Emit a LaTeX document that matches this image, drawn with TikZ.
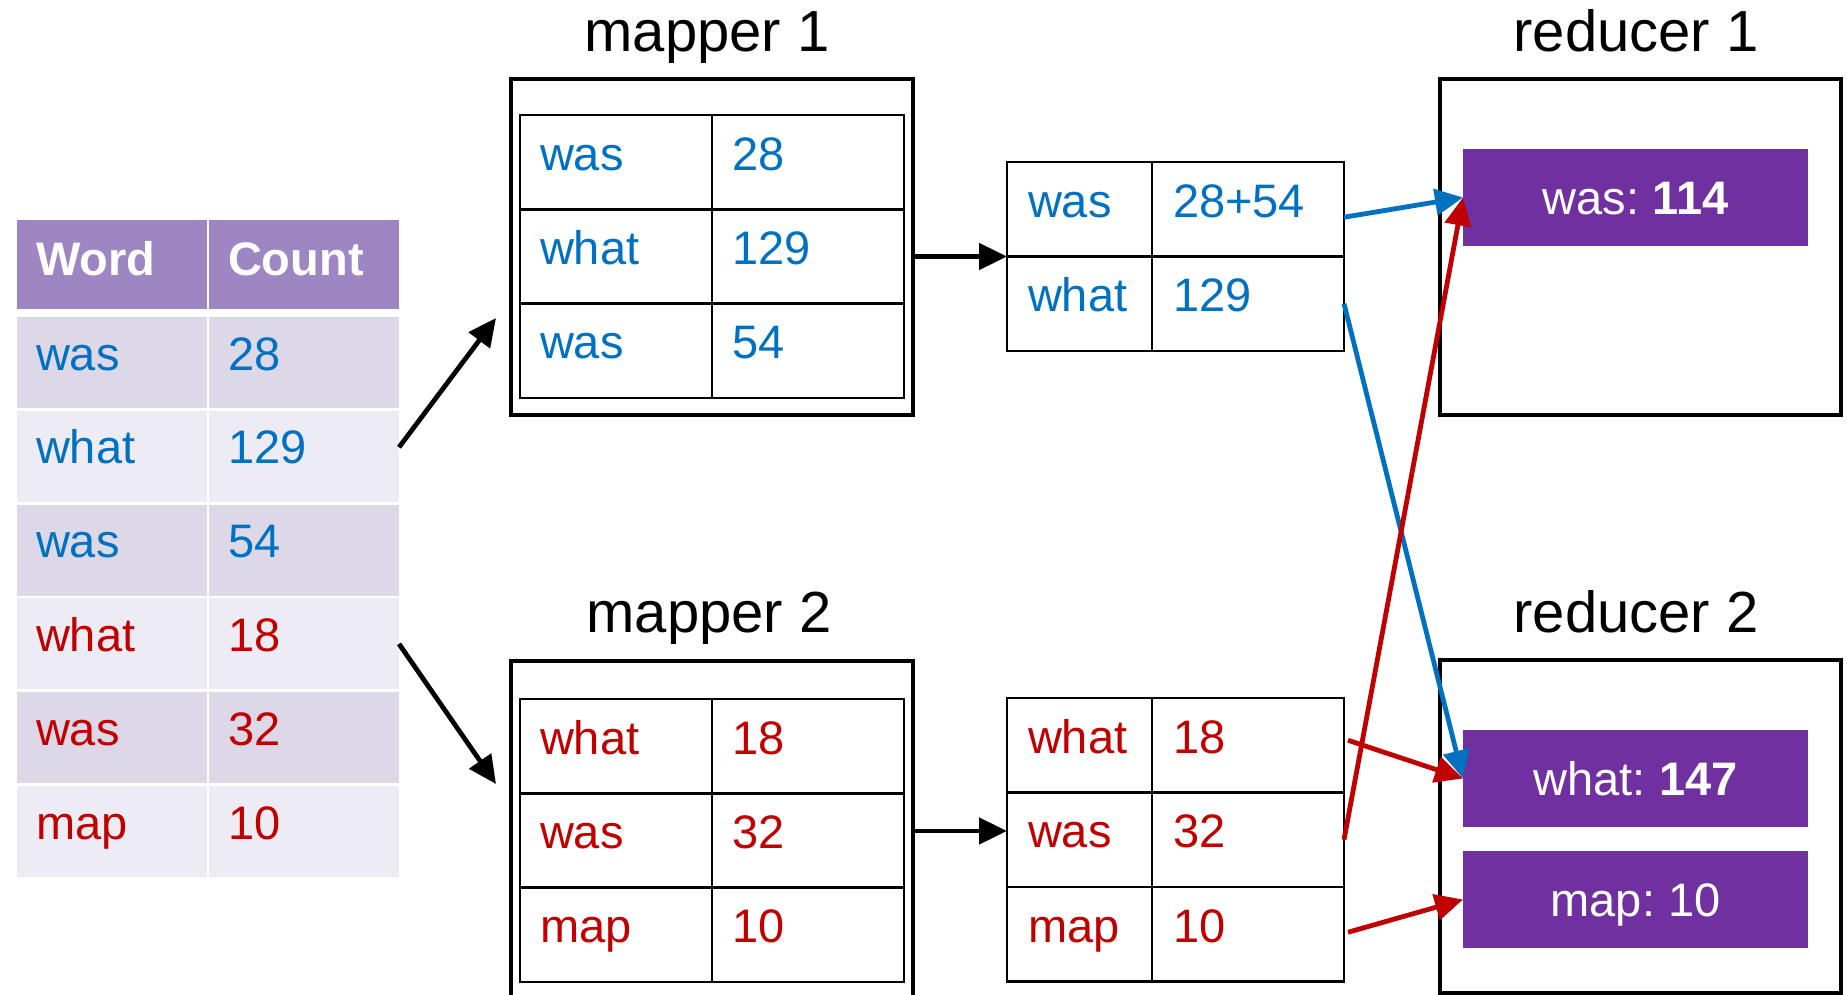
\documentclass[tikz,border=0pt]{standalone}
\usepackage{fontspec}
\setmainfont{Liberation Sans}
\frenchspacing
\usetikzlibrary{arrows.meta,calc}
\definecolor{wblue}{HTML}{0070C0}
\definecolor{wred}{HTML}{C00000}
\definecolor{rpurple}{HTML}{7030A0}
\definecolor{hdr}{HTML}{9E86C2}
\definecolor{rowA}{HTML}{DCD8E8}
\definecolor{rowB}{HTML}{EDEBF3}
\tikzset{
  every node/.style={inner sep=0pt, outer sep=0pt},
  tabfont/.style={font=\fontsize{23.5}{28}\selectfont},
  title/.style={anchor=base, font=\fontsize{29}{34}\selectfont},
  % input table (word count list)
  lhead/.style={tabfont, anchor=north west, fill=hdr, text=white, font=\fontsize{23.5}{28}\selectfont\bfseries,
    align=left, text width=76pt, inner xsep=9.5pt, inner ysep=0pt, text height=27.5pt, text depth=17pt},
  lcell/.style={tabfont, anchor=north west, align=left, text width=76pt, inner xsep=9.5pt,
    inner ysep=0pt, text height=26.5pt, text depth=19pt},
  % mapper tables
  mcell/.style={tabfont, anchor=north west, draw=black, line width=1.25pt, align=left, text width=76pt,
    inner xsep=10pt, inner ysep=0pt, text height=27.5pt, text depth=19.65pt},
  % combined tables
  ccell/.style={tabfont, anchor=north west, draw=black, line width=1.4pt, align=left, text width=#1,
    inner xsep=10.5pt, inner ysep=0pt, text height=27.5pt, text depth=19.75pt},
  obox/.style={anchor=north west, draw=black, line width=2.25pt, minimum width=#1},
  pbox/.style={tabfont, anchor=north west, fill=rpurple, text=white, minimum width=172.5pt,
    minimum height=48.5pt, text height=16.8pt, text depth=0pt},
  flow/.style={line width=2.4pt, -{Triangle[length=14pt,width=13pt]}},
  cflow/.style={line width=2.4pt, draw=#1, -{Triangle[length=14pt,width=13pt,fill=#1]}},
}
\begin{document}
\begin{tikzpicture}[x=0.5pt,y=-0.5pt]
\useasboundingbox (0,0) rectangle (1847,995);
\clip (0,0) rectangle (1847,995);

% ---- input table ----
\node[lhead] (Hw) at (17,220) {Word};
\node[lhead] (Hc) at (209,220) {Count};
\node[lcell, fill=rowA, text=wblue] (L1w) at (17,317)   {was};
\node[lcell, fill=rowA, text=wblue] (L1c) at (209,317)  {28};
\node[lcell, fill=rowB, text=wblue] (L2w) at (17,410.8) {what};
\node[lcell, fill=rowB, text=wblue] (L2c) at (209,410.8){129};
\node[lcell, fill=rowA, text=wblue] (L3w) at (17,504.6) {was};
\node[lcell, fill=rowA, text=wblue] (L3c) at (209,504.6){54};
\node[lcell, fill=rowB, text=wred]  (L4w) at (17,598.4) {what};
\node[lcell, fill=rowB, text=wred]  (L4c) at (209,598.4){18};
\node[lcell, fill=rowA, text=wred]  (L5w) at (17,692.2) {was};
\node[lcell, fill=rowA, text=wred]  (L5c) at (209,692.2){32};
\node[lcell, fill=rowB, text=wred]  (L6w) at (17,786)   {map};
\node[lcell, fill=rowB, text=wred]  (L6c) at (209,786)  {10};

% ---- mapper 1 ----
\node[title] (T1) at (707,52) {mapper 1};
\node[obox=201pt, minimum height=168pt] (M1) at (511,79) {};
\node[mcell, text=wblue] (M1aw) at (520,115)   {was};
\node[mcell, text=wblue] (M1ac) at (712,115)   {28};
\node[mcell, text=wblue] (M1bw) at (520,209.3) {what};
\node[mcell, text=wblue] (M1bc) at (712,209.3) {129};
\node[mcell, text=wblue] (M1cw) at (520,303.6) {was};
\node[mcell, text=wblue] (M1cc) at (712,303.6) {54};

% ---- mapper 2 ----
\node[title] (T2) at (709,632) {mapper 2};
\node[obox=201pt, minimum height=170pt] (M2) at (511,661) {};
\node[mcell, text=wred] (M2aw) at (520,699)   {what};
\node[mcell, text=wred] (M2ac) at (712,699)   {18};
\node[mcell, text=wred] (M2bw) at (520,793.3) {was};
\node[mcell, text=wred] (M2bc) at (712,793.3) {32};
\node[mcell, text=wred] (M2cw) at (520,887.6) {map};
\node[mcell, text=wred] (M2cc) at (712,887.6) {10};

% ---- combined output of mapper 1 ----
\node[ccell=51.5pt, text=wblue] (C1aw) at (1007,162)   {was};
\node[ccell=75pt,   text=wblue] (C1ac) at (1152,162)   {28+54};
\node[ccell=51.5pt, text=wblue] (C1bw) at (1007,256.5) {what};
\node[ccell=75pt,   text=wblue] (C1bc) at (1152,256.5) {129};

% ---- combined output of mapper 2 ----
\node[ccell=51.5pt, text=wred] (C2aw) at (1007,698)   {what};
\node[ccell=75pt,   text=wred] (C2ac) at (1152,698)   {18};
\node[ccell=51.5pt, text=wred] (C2bw) at (1007,792.5) {was};
\node[ccell=75pt,   text=wred] (C2bc) at (1152,792.5) {32};
\node[ccell=51.5pt, text=wred] (C2cw) at (1007,887)   {map};
\node[ccell=75pt,   text=wred] (C2cc) at (1152,887)   {10};

% ---- reducers ----
\node[title] (T3) at (1636,52) {reducer 1};
\node[obox=200.5pt, minimum height=168pt] (R1) at (1440,79) {};
\node[pbox] (R1a) at (1463,149) {was: \textbf{114}};

\node[title] (T4) at (1636,632) {reducer 2};
\node[obox=200.5pt, minimum height=166.5pt] (R2) at (1440,660) {};
\node[pbox] (R2a) at (1463,730) {what: \textbf{147}};
\node[pbox] (R2b) at (1463,851) {map: 10};

% ---- split input to the mappers ----
\draw[flow] ([yshift=4.5pt]L2c.east) -- ([xshift=-7.5pt,yshift=-35.5pt]M1.west);
\draw[flow] (L4c.east) -- ([xshift=-7.5pt,yshift=23.5pt]M2.west);

% ---- mappers to combined tables ----
\draw[flow] (M1.east |- C1aw.south west) -- (C1aw.south west);
\draw[flow] (M2.east) -- (M2.east -| C2bw.west);

% ---- shuffle to reducers ----
\draw[cflow=wblue] ([yshift=-4pt]C1ac.east) -- (R1a.west);
\draw[cflow=wblue] (C1bc.east) -- (R2a.west);
\draw[cflow=wred] ([xshift=2pt,yshift=2.5pt]C2ac.east) -- (R2a.west);
\draw[cflow=wred] (C2bc.east) -- (R1a.west);
\draw[cflow=wred] ([xshift=2pt,yshift=1pt]C2cc.east) -- (R2b.west);
\end{tikzpicture}
\end{document}
